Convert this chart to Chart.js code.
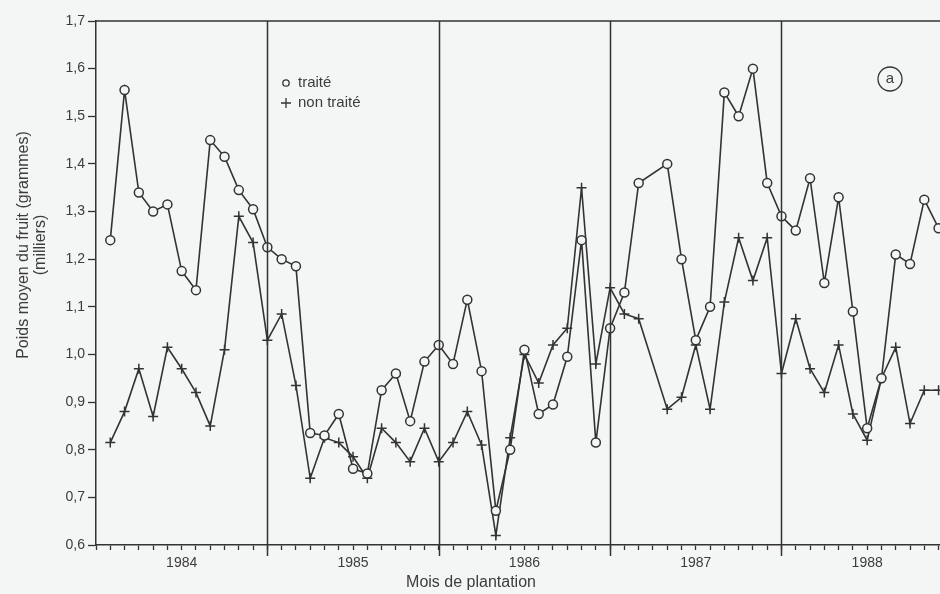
<!DOCTYPE html>
<html>
<head>
    <title>Poids moyen du fruit</title>
    <script src="https://cdn.jsdelivr.net/npm/chart.js"></script>
    <style>
        body { margin: 0; background: #f4f5f5; overflow: hidden; }
        canvas { display: block; }
    </style>
</head>
<body>
    <canvas id="myChart" width="940" height="594"></canvas>
    <script>
        // month index since Jan 1984 (no point for month 39)
        var months = [1, 2, 3, 4, 5, 6, 7, 8, 9, 10, 11, 12,
            13, 14, 15, 16, 17, 18, 19, 20, 21, 22, 23, 24,
            25, 26, 27, 28, 29, 30, 31, 32, 33, 34, 35, 36,
            37, 38, 40, 41, 42, 43, 44, 45, 46, 47, 48,
            49, 50, 51, 52, 53, 54, 55, 56, 57, 58, 59];
        var traite = [1.24, 1.555, 1.34, 1.30, 1.315, 1.175, 1.135, 1.45, 1.415, 1.345, 1.305, 1.225,
            1.20, 1.185, 0.835, 0.83, 0.875, 0.76, 0.75, 0.925, 0.96, 0.86, 0.985, 1.02,
            0.98, 1.115, 0.965, 0.672, 0.80, 1.01, 0.875, 0.895, 0.995, 1.24, 0.815, 1.055,
            1.13, 1.36, 1.40, 1.20, 1.03, 1.10, 1.55, 1.50, 1.60, 1.36, 1.29,
            1.26, 1.37, 1.15, 1.33, 1.09, 0.845, 0.95, 1.21, 1.19, 1.325, 1.265];
        var nonTraite = [0.815, 0.88, 0.97, 0.87, 1.015, 0.97, 0.92, 0.85, 1.01, 1.29, 1.235, 1.03,
            1.085, 0.935, 0.74, 0.825, 0.815, 0.785, 0.74, 0.845, 0.815, 0.775, 0.845, 0.775,
            0.815, 0.88, 0.81, 0.62, 0.825, 1.00, 0.94, 1.02, 1.055, 1.35, 0.98, 1.14,
            1.085, 1.075, 0.885, 0.91, 1.02, 0.885, 1.11, 1.245, 1.155, 1.245, 0.96,
            1.075, 0.97, 0.92, 1.02, 0.875, 0.82, 0.95, 1.015, 0.855, 0.925, 0.925];
        var years = ['1984', '1985', '1986', '1987', '1988'];
        var yearStarts = [12, 24, 36, 48];

        var ink = '#333333';
        var textInk = '#3c3c3c';
        var bg = '#f4f5f5';
        var font = "'Liberation Sans', Arial, sans-serif";

        function pts(vals) {
            return months.map(function (m, i) { return { x: m, y: vals[i] }; });
        }

        var frame = {
            id: 'frame',
            afterDraw: function (chart) {
                var c = chart.ctx, a = chart.chartArea, x = chart.scales.x;
                c.save();
                c.strokeStyle = ink;
                c.lineWidth = 1.5;
                c.beginPath();
                c.moveTo(a.left, a.top);
                c.lineTo(a.right, a.top);
                yearStarts.forEach(function (m) {
                    var px = Math.round(x.getPixelForValue(m)) + 0.5;
                    c.moveTo(px, a.top);
                    c.lineTo(px, a.bottom + 11);
                });
                c.stroke();

                // axis titles
                c.fillStyle = textInk;
                c.textAlign = 'center';
                c.textBaseline = 'middle';
                c.font = '16px ' + font;
                c.fillText('Mois de plantation', 471, 583);
                c.save();
                c.translate(24, 245);
                c.rotate(-Math.PI / 2);
                c.fillText('Poids moyen du fruit (grammes)', 0, 0);
                c.fillText('(milliers)', 0, 17);
                c.restore();

                // legend
                c.textAlign = 'left';
                c.font = '15px ' + font;
                c.lineWidth = 1.3;
                c.beginPath();
                c.arc(286, 83, 3.2, 0, Math.PI * 2);
                c.stroke();
                c.fillText('traité', 298, 83);
                c.beginPath();
                c.moveTo(281, 103); c.lineTo(291, 103);
                c.moveTo(286, 98); c.lineTo(286, 108);
                c.stroke();
                c.fillText('non traité', 298, 103);

                // panel letter
                c.beginPath();
                c.arc(890, 79, 12, 0, Math.PI * 2);
                c.stroke();
                c.textAlign = 'center';
                c.font = '15px ' + font;
                c.fillText('a', 890, 79);
                c.restore();
            }
        };

        var ctx = document.getElementById('myChart').getContext('2d');
        var myChart = new Chart(ctx, {
            type: 'line',
            data: {
                datasets: [{
                    label: 'traité',
                    data: pts(traite),
                    borderColor: ink,
                    borderWidth: 1.6,
                    pointStyle: 'circle',
                    pointRadius: 4.5,
                    pointBorderWidth: 1.5,
                    pointBorderColor: ink,
                    pointBackgroundColor: bg,
                    tension: 0,
                    clip: false
                }, {
                    label: 'non traité',
                    data: pts(nonTraite),
                    borderColor: ink,
                    borderWidth: 1.6,
                    pointStyle: 'cross',
                    pointRadius: 5,
                    pointBorderWidth: 1.5,
                    pointBorderColor: ink,
                    tension: 0,
                    clip: false
                }]
            },
            options: {
                responsive: false,
                animation: false,
                devicePixelRatio: 1,
                layout: { autoPadding: false, padding: { top: 21, right: 0, left: 0, bottom: 0 } },
                plugins: {
                    legend: { display: false },
                    tooltip: { enabled: false }
                },
                scales: {
                    x: {
                        type: 'linear',
                        min: 0,
                        max: 59.1,
                        afterBuildTicks: function (scale) {
                            var t = [];
                            for (var m = 0; m <= 59; m++) t.push({ value: m });
                            scale.ticks = t;
                        },
                        afterFit: function (scale) {
                            scale.height = 49;
                            scale.paddingRight = 0;
                            scale.paddingLeft = 0;
                        },
                        ticks: {
                            autoSkip: false,
                            maxRotation: 0,
                            padding: 5,
                            color: textInk,
                            font: { family: font, size: 14 },
                            callback: function (v) {
                                return v % 12 === 6 ? years[(v - 6) / 12] : '';
                            }
                        },
                        grid: {
                            drawOnChartArea: false,
                            tickLength: 5,
                            tickWidth: 1.3,
                            tickColor: ink
                        },
                        border: { color: ink, width: 1.5 }
                    },
                    y: {
                        min: 0.6,
                        max: 1.7,
                        afterFit: function (scale) { scale.width = 96; },
                        ticks: {
                            stepSize: 0.1,
                            padding: 3,
                            color: textInk,
                            font: { family: font, size: 14 },
                            callback: function (v) { return v.toFixed(1).replace('.', ','); }
                        },
                        grid: {
                            drawOnChartArea: false,
                            tickLength: 8,
                            tickWidth: 1.3,
                            tickColor: ink
                        },
                        border: { color: ink, width: 1.5 }
                    }
                }
            },
            plugins: [frame]
        });
    </script>
</body>
</html>
